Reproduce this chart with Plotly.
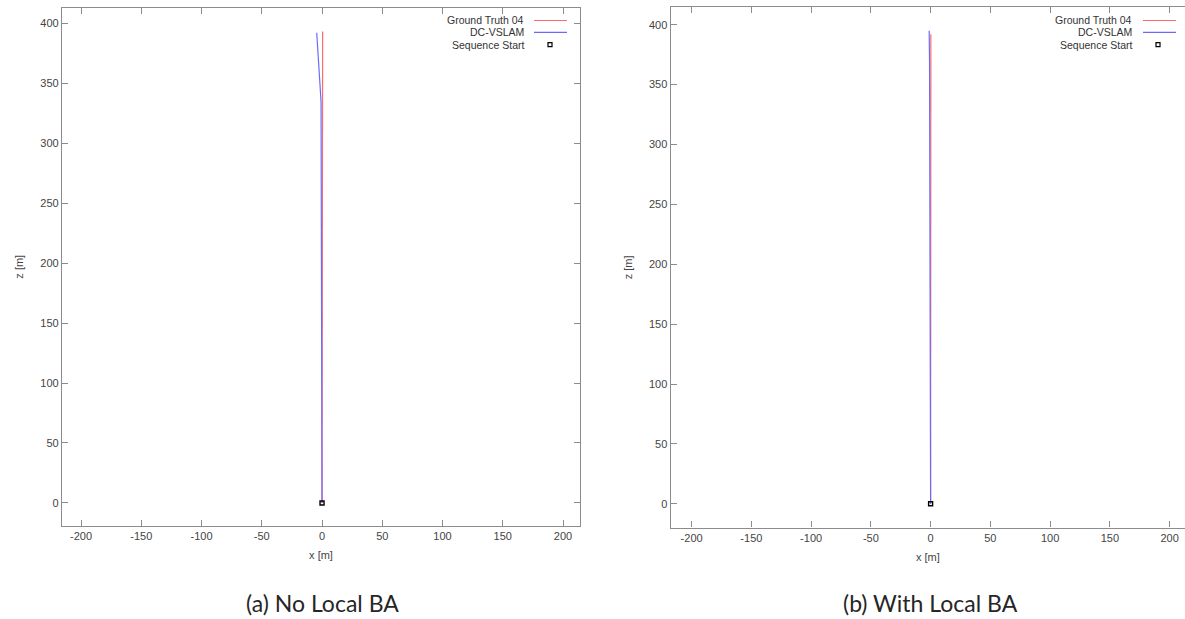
import plotly.graph_objects as go

# Trajectory samples (x, z in metres), KITTI sequence 04
gt_a_x = [0.0, 0.1, 0.2, 0.3, 0.4, 0.5]
gt_a_z = [0.0, 100.0, 200.0, 300.0, 350.0, 393.0]
dc_a_x = [0.0, -0.1, -0.2, -0.3, -0.3, -0.8, -1.4, -2.2, -3.0, -4.4]
dc_a_z = [0.0, 100.0, 200.0, 250.0, 322.0, 334.0, 344.0, 356.0, 367.0, 392.0]

gt_b_x = [0.0, 0.1, 0.2, 0.3, 0.4, 0.2]
gt_b_z = [0.0, 100.0, 200.0, 300.0, 370.0, 392.0]
dc_b_x = [0.0, -0.1, -0.3, -0.6, -0.9, -1.2]
dc_b_z = [0.0, 100.0, 200.0, 300.0, 370.0, 395.0]

start_x = [0.0]
start_z = [0.0]

x_ticks = [-200, -150, -100, -50, 0, 50, 100, 150, 200]
z_ticks = [0, 50, 100, 150, 200, 250, 300, 350, 400]
x_tick_text = [str(v) for v in x_ticks]
z_tick_text = [str(v) for v in z_ticks]

legend_names = ["Ground Truth 04", "DC-VSLAM", "Sequence Start"]
captions = ["(a) No Local BA", "(b) With Local BA"]

RED = "#ff6a6a"
BLUE = "#6a6aff"
AXIS_GRAY = "#8c8c8c"
TEXT_GRAY = "#444444"

W, H = 1185, 619

fig = go.Figure()

panels = [
    dict(gx=gt_a_x, gz=gt_a_z, dx=dc_a_x, dz=dc_a_z, xa="x", ya="y"),
    dict(gx=gt_b_x, gz=gt_b_z, dx=dc_b_x, dz=dc_b_z, xa="x2", ya="y2"),
]

for p in panels:
    fig.add_trace(go.Scatter(x=p["gx"], y=p["gz"], mode="lines",
                             line=dict(color=RED, width=1.2),
                             xaxis=p["xa"], yaxis=p["ya"], showlegend=False,
                             hoverinfo="skip"))
    fig.add_trace(go.Scatter(x=p["dx"], y=p["dz"], mode="lines",
                             line=dict(color=BLUE, width=1.2),
                             xaxis=p["xa"], yaxis=p["ya"], showlegend=False,
                             hoverinfo="skip"))
    fig.add_trace(go.Scatter(x=start_x, y=start_z, mode="markers",
                             marker=dict(symbol="square-open", size=4,
                                         color="black", line=dict(width=1.4, color="black")),
                             xaxis=p["xa"], yaxis=p["ya"], showlegend=False,
                             hoverinfo="skip"))

tick_font = dict(family="Liberation Sans, Arial, sans-serif", size=11, color=TEXT_GRAY)

def axis_common():
    return dict(
        showgrid=False, zeroline=False,
        showline=True, linecolor=AXIS_GRAY, linewidth=1.2,
        ticks="inside", ticklen=6, tickcolor=AXIS_GRAY, tickwidth=1,
        tickfont=tick_font,
    )

fig.update_layout(
    xaxis=dict(**axis_common(), domain=[62 / W, 580 / W], range=[-215.8, 214.1],
               tickvals=x_ticks, ticktext=x_tick_text, mirror="ticks", anchor="y",
               title=dict(text="x [m]", font=tick_font, standoff=10)),
    yaxis=dict(**axis_common(), domain=[(H - 526) / H, (H - 7.5) / H], range=[-19.2, 413.0],
               tickvals=z_ticks, ticktext=z_tick_text, mirror="ticks", anchor="x",
               title=dict(text="z [m]", font=tick_font, standoff=14)),
    xaxis2=dict(**axis_common(), domain=[670.6 / W, 1.0], range=[-217.6, 212.9],
                tickvals=x_ticks, ticktext=x_tick_text, mirror="ticks", anchor="y2",
                title=dict(text="x [m]", font=tick_font, standoff=10)),
    yaxis2=dict(**axis_common(), domain=[(H - 527.5) / H, (H - 7.3) / H], range=[-19.8, 414.5],
                tickvals=z_ticks, ticktext=z_tick_text, mirror=False, anchor="x2",
                title=dict(text="z [m]", font=tick_font, standoff=14)),
)

# Legends drawn in the top-right corner of each panel
legend_cfg = [
    dict(text_right=526, line0=534, line1=567, marker_x=550),
    dict(text_right=1134, line0=1143, line1=1176, marker_x=1158),
]
row_y = [20.5, 32.3, 44.7]
shapes = []
annotations = []
for cfg in legend_cfg:
    for i, name in enumerate(legend_names):
        annotations.append(dict(
            x=cfg["text_right"] / W, y=1 - row_y[i] / H, xref="paper", yref="paper",
            text=name, showarrow=False, xanchor="right", yanchor="middle",
            font=dict(family="Liberation Sans, Arial, sans-serif", size=10.5, color="#333333")))
    for i, col in enumerate([RED, BLUE]):
        yy = 1 - row_y[i] / H
        shapes.append(dict(type="line", xref="paper", yref="paper",
                           x0=cfg["line0"] / W, x1=cfg["line1"] / W, y0=yy, y1=yy,
                           line=dict(color=col, width=1.2)))
    mx, my = cfg["marker_x"], row_y[2]
    shapes.append(dict(type="rect", xref="paper", yref="paper",
                       x0=(mx - 2) / W, x1=(mx + 2) / W,
                       y0=1 - (my + 2) / H, y1=1 - (my - 2) / H,
                       line=dict(color="black", width=1.2)))

for cx, cap in zip([322, 930], captions):
    annotations.append(dict(
        x=cx / W, y=1 - 603 / H, xref="paper", yref="paper", text=cap,
        showarrow=False, xanchor="center", yanchor="middle",
        font=dict(family="Lato, Open Sans, sans-serif", size=23, color="#262626")))

fig.update_layout(
    width=W, height=H,
    margin=dict(l=0, r=0, t=0, b=0),
    paper_bgcolor="white", plot_bgcolor="white",
    showlegend=False,
    shapes=shapes, annotations=annotations,
)

fig.write_html("out.html", include_plotlyjs=True, config={"displayModeBar": False})
